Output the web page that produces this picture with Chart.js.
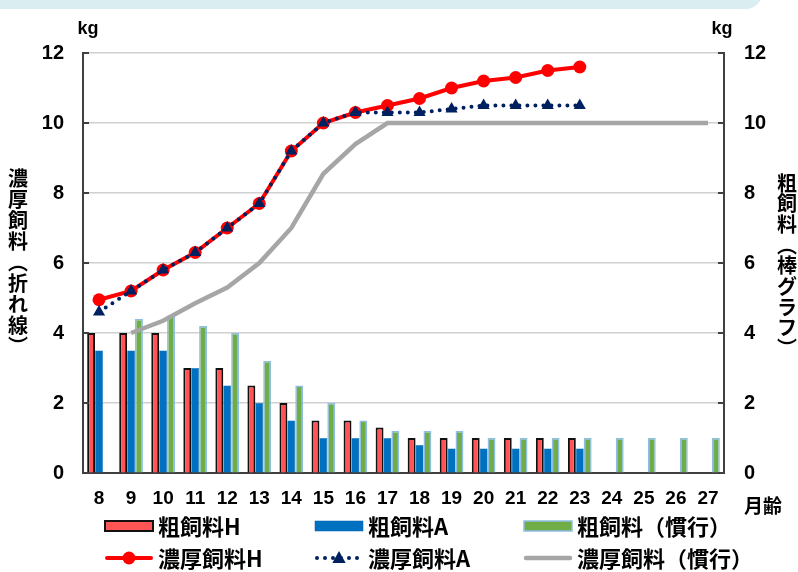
<!DOCTYPE html>
<html lang="ja">
<head>
<meta charset="utf-8">
<script src="https://cdn.jsdelivr.net/npm/chart.js@4.4.0/dist/chart.umd.min.js"></script>
<style>
  html, body { margin: 0; padding: 0; background: #fff; }
  #wrap { position: relative; width: 798px; height: 572px; overflow: hidden; }
  #band { position: absolute; left: -20px; top: -20px; width: 782px; height: 29px;
          background: #daedf1; border-radius: 0 0 16px 0; }
  #chart { position: absolute; left: 0; top: 0; }
</style>
</head>
<body>
<div id="wrap">
  <div id="band"></div>
  <canvas id="chart" width="798" height="572"></canvas>
</div>
<script>
// 月齢
const months = ['8', '9', '10', '11', '12', '13', '14', '15', '16', '17',
                '18', '19', '20', '21', '22', '23', '24', '25', '26', '27'];

// 粗飼料 (棒グラフ, 右軸) kg
const roughH    = [4.0, 4.0, 4.0, 3.0, 3.0, 2.5, 2.0, 1.5, 1.5, 1.3, 1.0, 1.0, 1.0, 1.0, 1.0, 1.0, null, null, null, null];
const roughA    = [3.5, 3.5, 3.5, 3.0, 2.5, 2.0, 1.5, 1.0, 1.0, 1.0, 0.8, 0.7, 0.7, 0.7, 0.7, 0.7, null, null, null, null];
const roughConv = [null, 4.4, 4.5, 4.2, 4.0, 3.2, 2.5, 2.0, 1.5, 1.2, 1.2, 1.2, 1.0, 1.0, 1.0, 1.0, 1.0, 1.0, 1.0, 1.0];

// 濃厚飼料 (折れ線, 左軸) kg
const concH    = [4.95, 5.2, 5.8, 6.3, 7.0, 7.7, 9.2, 10.0, 10.3, 10.5, 10.7, 11.0, 11.2, 11.3, 11.5, 11.6, null, null, null, null];
const concA    = [4.6, 5.2, 5.8, 6.3, 7.0, 7.7, 9.2, 10.0, 10.3, 10.3, 10.3, 10.4, 10.5, 10.5, 10.5, 10.5, null, null, null, null];
const concConv = [null, 4.0, 4.35, 4.85, 5.3, 6.0, 7.0, 8.55, 9.4, 10.0, 10.0, 10.0, 10.0, 10.0, 10.0, 10.0, 10.0, 10.0, 10.0, 10.0];

const leftTitle = '濃厚飼料（折れ線）';
const rightTitle = '粗飼料（棒グラフ）';

const numFont = '"Liberation Sans Narrow", "Liberation Sans", Arial, sans-serif';
const jpFont = '"Noto Sans CJK JP", "Noto Sans", sans-serif';

// 縦書き用の括弧
const verticalForms = { '（': '︵', '）': '︶' };

function drawVertical(ctx, text, x, y, step) {
  for (const ch of text) {
    ctx.fillText(verticalForms[ch] || ch, x, y);
    y += step;
  }
}

// 内向き目盛り、単位、縦書きタイトル、凡例
const extras = {
  id: 'extras',
  afterDraw(chart) {
    const ctx = chart.ctx;
    const a = chart.chartArea;
    ctx.save();
    ctx.fillStyle = '#000';
    ctx.textAlign = 'center';
    ctx.textBaseline = 'middle';

    ctx.strokeStyle = '#404040';
    ctx.lineWidth = 2;
    chart.scales.y.ticks.forEach(t => {
      const py = chart.scales.y.getPixelForValue(t.value);
      ctx.beginPath();
      ctx.moveTo(a.left, py); ctx.lineTo(a.left + 6, py);
      ctx.moveTo(a.right, py); ctx.lineTo(a.right - 6, py);
      ctx.stroke();
    });

    ctx.font = 'bold 18px ' + numFont;
    ctx.fillText('kg', 88, 29);
    ctx.fillText('kg', 722, 29);

    ctx.font = 'bold 19px ' + jpFont;
    ctx.fillText('月齢', 763, 506);

    ctx.font = 'bold 20px ' + jpFont;
    drawVertical(ctx, leftTitle, 18, 178, 21);
    drawVertical(ctx, rightTitle, 787, 183, 20.7);

    const cols = [105, 315, 524];
    const rows = [526, 558];
    const ds = chart.data.datasets;
    ctx.textAlign = 'left';
    ctx.font = 'bold 22px ' + jpFont;
    ds.forEach((d, i) => {
      const x = cols[i % 3];
      const y = rows[Math.floor(i / 3)];
      if (d.type === 'bar') {
        ctx.fillStyle = d.backgroundColor;
        ctx.fillRect(x, y - 5, 48, 10);
        ctx.strokeStyle = d.borderColor;
        ctx.lineWidth = d.borderWidth;
        ctx.strokeRect(x, y - 5, 48, 10);
      } else {
        ctx.strokeStyle = d.borderColor;
        ctx.lineWidth = d.borderWidth;
        ctx.lineCap = 'round';
        ctx.setLineDash(d.borderDash || []);
        ctx.beginPath();
        ctx.moveTo(x + 2, y); ctx.lineTo(x + 46, y);
        ctx.stroke();
        ctx.setLineDash([]);
        if (d.pointRadius > 0) {
          ctx.fillStyle = d.pointBackgroundColor;
          ctx.beginPath();
          if (d.pointStyle === 'triangle') {
            const r = d.pointRadius;
            ctx.moveTo(x + 24, y - r);
            ctx.lineTo(x + 24 + r * 0.95, y + r * 0.7);
            ctx.lineTo(x + 24 - r * 0.95, y + r * 0.7);
            ctx.closePath();
          } else {
            ctx.arc(x + 24, y, d.pointRadius, 0, Math.PI * 2);
          }
          ctx.fill();
        }
      }
      ctx.fillStyle = '#000';
      ctx.fillText(d.label, x + 53, y + 1);
    });
    ctx.restore();
  }
};

new Chart(document.getElementById('chart'), {
  data: {
    labels: months,
    datasets: [
      { type: 'bar', label: '粗飼料H', data: roughH, yAxisID: 'y2', order: 10,
        backgroundColor: '#ff5555', borderColor: '#111', borderWidth: 2 },
      { type: 'bar', label: '粗飼料A', data: roughA, yAxisID: 'y2', order: 10,
        backgroundColor: '#0070c0', borderColor: '#0062aa', borderWidth: 0.5 },
      { type: 'bar', label: '粗飼料（慣行）', data: roughConv, yAxisID: 'y2', order: 10,
        backgroundColor: '#70ad47', borderColor: '#8fbde6', borderWidth: 1.5 },
      { type: 'line', label: '濃厚飼料H', data: concH, yAxisID: 'y', order: 2,
        borderColor: '#ff0000', borderWidth: 4, pointRadius: 6.5, pointStyle: 'circle',
        pointBackgroundColor: '#ff0000', pointBorderColor: '#ff0000', pointBorderWidth: 0 },
      { type: 'line', label: '濃厚飼料A', data: concA, yAxisID: 'y', order: 1,
        borderColor: '#002060', borderWidth: 4, borderDash: [0, 8], borderCapStyle: 'round',
        pointRadius: 7, pointStyle: 'triangle',
        pointBackgroundColor: '#002060', pointBorderColor: '#002060', pointBorderWidth: 0 },
      { type: 'line', label: '濃厚飼料（慣行）', data: concConv, yAxisID: 'y', order: 3,
        borderColor: '#a6a6a6', borderWidth: 4.5, pointRadius: 0 }
    ]
  },
  options: {
    responsive: false,
    animation: false,
    devicePixelRatio: 1,
    layout: { padding: { top: 53, left: 0, right: 0, bottom: 0 } },
    datasets: { bar: { categoryPercentage: 0.74, barPercentage: 1.0 } },
    plugins: { legend: { display: false }, tooltip: { enabled: false } },
    scales: {
      x: {
        grid: { display: false, tickLength: 0 },
        border: { color: '#404040', width: 2 },
        ticks: { color: '#000', padding: 14, maxRotation: 0, autoSkip: false,
                 font: { family: numFont, size: 19, weight: 'bold' } },
        afterFit(s) { s.height = 99; }
      },
      y: {
        position: 'left', min: 0, max: 12,
        grid: { color: '#d0d0d0', lineWidth: 1.5, tickLength: 0 },
        border: { color: '#404040', width: 2 },
        ticks: { stepSize: 2, color: '#000', padding: 19,
                 font: { family: numFont, size: 20, weight: 'bold' } },
        afterFit(s) { s.width = 83; }
      },
      y2: {
        position: 'right', min: 0, max: 12,
        grid: { drawOnChartArea: false, tickLength: 0 },
        border: { color: '#404040', width: 2 },
        ticks: { stepSize: 2, color: '#000', padding: 20,
                 font: { family: numFont, size: 20, weight: 'bold' } },
        afterFit(s) { s.width = 74; }
      }
    }
  },
  plugins: [extras]
});
</script>
</body>
</html>
